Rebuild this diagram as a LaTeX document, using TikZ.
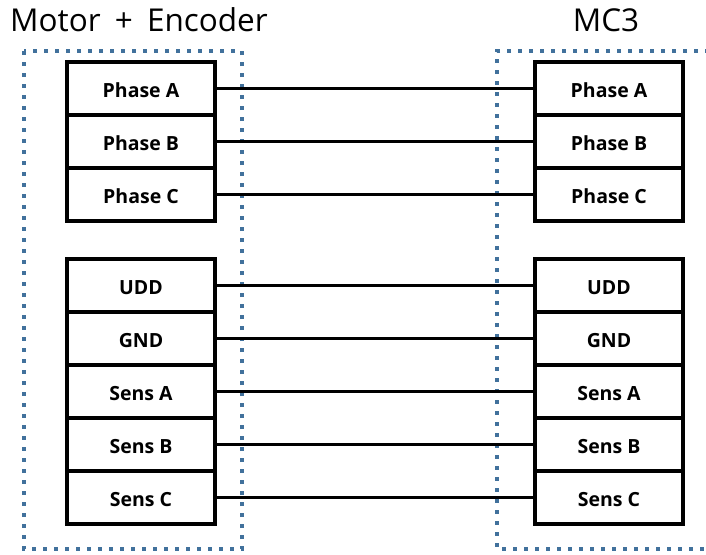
\documentclass[tikz,border=0pt]{standalone}
\usepackage{fontspec}
\setmainfont{Open Sans}
\begin{document}
\begin{tikzpicture}[x=1pt,y=-1pt,
  cell/.style={draw=black,line width=4pt,minimum width=148pt,minimum height=53pt,inner sep=0pt,font=\fontsize{19.5}{22}\selectfont\bfseries,anchor=center,text depth=0pt,text height=17pt},
  wire/.style={draw=black,line width=3pt},
  grp/.style={draw={rgb,255:red,65;green,113;blue,156},line width=3.5pt,dash pattern=on 4pt off 7pt},
  ttl/.style={font=\fontsize{31.5}{36}\selectfont,inner sep=0pt}]
\useasboundingbox (0,0) rectangle (706,554);
\draw[grp] (24,51) rectangle (242,549);
\draw[grp] (720,51) -- (497,51) -- (497,549) -- (720,549);
\node[ttl,anchor=base west] (t1) at (10,31) {Motor\hspace{0.45em}+\hspace{0.45em}Encoder};
\node[ttl,anchor=base] (t2) at (606,31) {MC3};
\foreach \n/\y/\t in {pa/88.5/Phase A,pb/141.5/Phase B,pc/194.5/Phase C,udd/285.5/UDD,gnd/338.5/GND,sa/391.5/Sens A,sb/444.5/Sens B,sc/497.5/Sens C}{
  \node[cell] (L\n) at (141,\y) {\t};
  \node[cell] (R\n) at (609,\y) {\t};
  \draw[wire] (L\n.east) -- (R\n.west);
}
\end{tikzpicture}
\end{document}
